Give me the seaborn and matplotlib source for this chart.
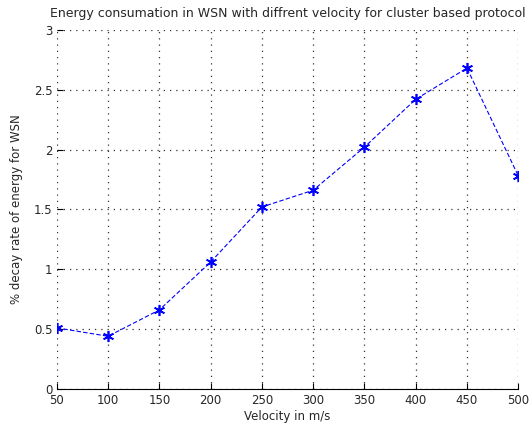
import matplotlib
matplotlib.use("Agg")
import matplotlib.pyplot as plt
import seaborn as sns
import pandas as pd

velocity = [50, 100, 150, 200, 250, 300, 350, 400, 450, 500]
decay = [0.51, 0.44, 0.66, 1.06, 1.52, 1.66, 2.02, 2.42, 2.68, 1.78]
x_ticks = [50, 100, 150, 200, 250, 300, 350, 400, 450, 500]
y_ticks = [0, 0.5, 1, 1.5, 2, 2.5, 3]
y_tick_labels = ["0", "0.5", "1", "1.5", "2", "2.5", "3"]

sns.set_style("white")
plt.rcParams['font.family'] = ['DejaVu Sans']

df = pd.DataFrame({"Velocity": velocity, "Decay": decay})

fig = plt.figure(figsize=(5.31, 4.26), dpi=100)
ax = fig.add_axes([0.107, 0.087, 0.869, 0.843])

sns.lineplot(data=df, x="Velocity", y="Decay", ax=ax, color="blue",
             linewidth=0.8, marker=(6, 2, 0), markersize=8,
             markeredgecolor="blue", markeredgewidth=1.2, dashes=False)
ax.lines[0].set_linestyle((0, (4, 2)))

ax.set_xlim(50, 500)
ax.set_ylim(0, 3)
ax.set_xticks(x_ticks)
ax.set_yticks(y_ticks)
ax.set_xticklabels([str(v) for v in x_ticks], fontsize=8.5)
ax.set_yticklabels(y_tick_labels, fontsize=8.5)
ax.grid(True, linestyle=(0, (1, 4)), color="#333333", linewidth=0.9)
for s in ["top", "right", "left"]:
    ax.spines[s].set_visible(False)
ax.spines["bottom"].set_color("black")
ax.spines["bottom"].set_linewidth(0.8)
ax.tick_params(axis="x", direction="in", length=4, width=0.8, color="black", pad=4, bottom=True)
ax.tick_params(axis="y", direction="in", length=4, width=0.8, color="black", pad=3, left=True)

ax.set_xlabel("Velocity in m/s", fontsize=8.5, labelpad=2)
ax.set_ylabel("% decay rate of energy for WSN", fontsize=8.5, labelpad=8)
ax.set_title("Energy consumation in WSN with diffrent velocity for cluster based protocol",
             fontsize=9, pad=9)

fig.savefig("out.png", dpi=100)
